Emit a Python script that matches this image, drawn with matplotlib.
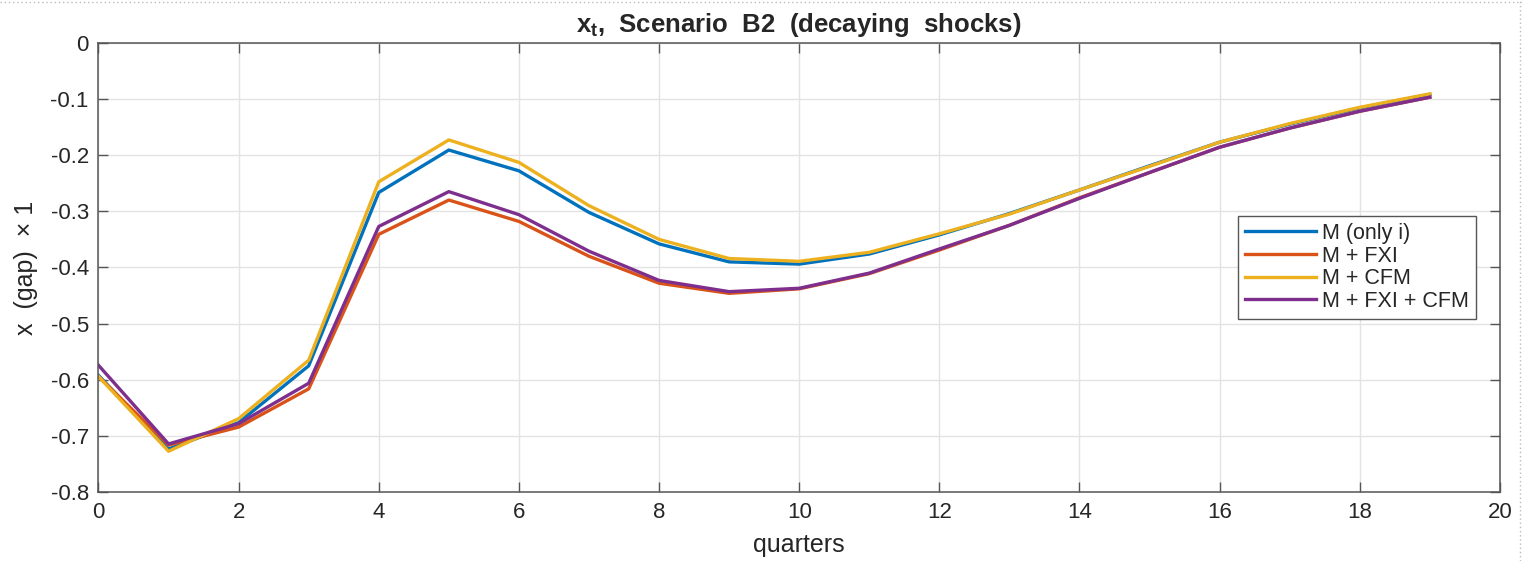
import numpy as np
import matplotlib
matplotlib.use("Agg")
import matplotlib.pyplot as plt
from matplotlib.lines import Line2D

# ── Data: output gap responses by policy mix ──────────────────────────────
quarters = np.arange(20)

x_only_i = [-0.592, -0.723, -0.676, -0.575, -0.2665, -0.191, -0.228, -0.302,
            -0.358, -0.390, -0.394, -0.376, -0.342, -0.304, -0.262, -0.219,
            -0.177, -0.145, -0.116, -0.092]
x_fxi = [-0.594, -0.716, -0.684, -0.616, -0.341, -0.280, -0.318, -0.380,
         -0.428, -0.446, -0.438, -0.411, -0.369, -0.325, -0.276, -0.231,
         -0.186, -0.152, -0.122, -0.097]
x_cfm = [-0.594, -0.727, -0.669, -0.565, -0.2475, -0.173, -0.213, -0.290,
         -0.350, -0.384, -0.389, -0.373, -0.340, -0.305, -0.262, -0.220,
         -0.177, -0.144, -0.115, -0.091]
x_fxi_cfm = [-0.574, -0.714, -0.678, -0.606, -0.327, -0.265, -0.306, -0.371,
             -0.423, -0.443, -0.437, -0.410, -0.367, -0.325, -0.277, -0.231,
             -0.186, -0.152, -0.122, -0.097]

labels = ["M (only i)", "M + FXI", "M + CFM", "M + FXI + CFM"]
colors = ["#0072BD", "#D95319", "#EDB120", "#7E2F8E"]

x_ticks = np.arange(0, 21, 2)
y_ticks = np.round(np.arange(-0.8, 0.01, 0.1), 1)

# ── Style ─────────────────────────────────────────────────────────────────
plt.rcParams["font.family"] = ["Liberation Sans", "DejaVu Sans"]
plt.rcParams["mathtext.fontset"] = "custom"
plt.rcParams["mathtext.rm"] = "Liberation Sans"
plt.rcParams["mathtext.bf"] = "Liberation Sans:bold"
TEXT = "#262626"
AX = "#555555"

fig = plt.figure(figsize=(15.22, 5.61), dpi=100)
ax = fig.add_axes([0.0647, 0.1225, 0.9208, 0.8014])

series = [x_only_i, x_fxi, x_cfm, x_fxi_cfm]
for vals, lab, col in zip(series, labels, colors):
    ax.plot(quarters, vals, color=col, lw=2.4, label=lab)

ax.set_xlim(0, 20)
ax.set_ylim(-0.8, 0)
ax.set_xticks(x_ticks)
ax.set_yticks(y_ticks)
ax.set_yticklabels(["0" if v == 0 else f"{v:g}" for v in y_ticks])

ax.grid(True, color="#e3e3e3", lw=1.0)
ax.set_axisbelow(True)
ax.tick_params(direction="in", length=7, width=1, color=AX,
               top=True, right=True, labelsize=16, labelcolor=TEXT, pad=7)
for sp in ax.spines.values():
    sp.set_color(AX)
    sp.set_linewidth(1.1)

ax.set_xlabel("quarters", fontsize=18, color=TEXT, labelpad=7)
ax.set_ylabel("x  (gap)  \u00d7 1", fontsize=18, color=TEXT, labelpad=9)
ax.set_title(r"$\mathbf{x_t}$,  Scenario  B2  (decaying  shocks)",
             fontsize=18.5, fontweight="bold", color=TEXT, pad=8)

leg = ax.legend(loc="upper right", bbox_to_anchor=(0.983, 0.6146),
                borderaxespad=0, fontsize=15.5, handlelength=3.3,
                handletextpad=0.3, labelspacing=0.08, borderpad=0.32,
                fancybox=False, framealpha=1)
leg.get_frame().set_edgecolor("#555555")
leg.get_frame().set_linewidth(1.0)
for t in leg.get_texts():
    t.set_color(TEXT)

# dotted page edge along top and right
fig.add_artist(Line2D([0, 1], [0.997, 0.997], transform=fig.transFigure,
                      color="#bbbbbb", lw=1, ls=(0, (1, 2))))
fig.add_artist(Line2D([0.9985, 0.9985], [0, 1], transform=fig.transFigure,
                      color="#bbbbbb", lw=1, ls=(0, (1, 2))))

fig.savefig("out.png", dpi=100, facecolor="white")
